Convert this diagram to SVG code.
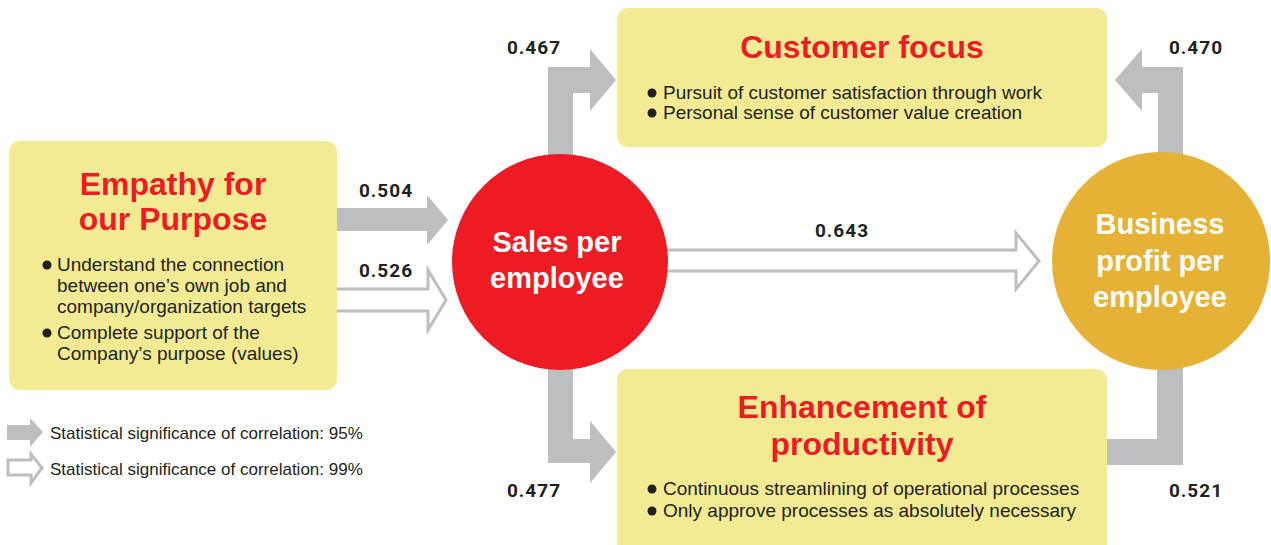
<svg xmlns="http://www.w3.org/2000/svg" width="1271" height="545" viewBox="0 0 1271 545">
<style>
.box{fill:#f3eb93}
.title{font-family:"Liberation Sans",Arial,sans-serif;font-weight:bold;fill:#ed1c24;font-size:32px;text-anchor:middle}
.body{font-family:"Liberation Sans",Arial,sans-serif;fill:#231f20;font-size:19px}
.leg{font-family:"Liberation Sans",Arial,sans-serif;fill:#231f20;font-size:17px}
.circ{font-family:"Liberation Sans",Arial,sans-serif;font-weight:bold;fill:#ffffff;font-size:29px;text-anchor:middle}
.num{font-family:Roboto,"Liberation Sans",sans-serif;font-weight:bold;fill:#231f20;font-size:19px;letter-spacing:1px;text-anchor:middle}
.solid{fill:#bcbec0}
.hollow{fill:#ffffff;stroke:#bcbec0;stroke-width:3;stroke-linejoin:miter}
.dot{fill:#231f20}
</style>
<g id="connectors">
  <polygon class="solid" points="548,200 548,67 590,67 590,49 616,80 590,111 590,93 573,93 573,200"/>
  <polygon class="solid" points="1183,200 1183,67 1142,67 1142,49 1115,80 1142,111 1142,93 1158,93 1158,200"/>
  <polygon class="solid" points="548,320 548,463 590,463 590,483 616,452 590,421 590,439 573,439 573,320"/>
  <polygon class="solid" points="1157,320 1157,439 1100,439 1100,465 1183,465 1183,320"/>
  <polygon class="solid" points="320,208 427,208 427,195 448,220 427,245 427,231 320,231"/>
  <polygon class="hollow" points="320,289 428,289 428,270 446,300 428,330 428,311 320,311"/>
  <polygon class="hollow" points="640,250 1016,250 1016,233 1039,261 1016,289 1016,271 640,271"/>
  <text class="num" x="386" y="197">0.504</text>
  <text class="num" x="386" y="277">0.526</text>
  <text class="num" x="534" y="54">0.467</text>
  <text class="num" x="1196" y="54">0.470</text>
  <text class="num" x="842" y="237">0.643</text>
  <text class="num" x="534" y="497">0.477</text>
  <text class="num" x="1196" y="497">0.521</text>
</g>
<g id="empathy">
  <rect class="box" x="9" y="141" width="328" height="249" rx="11"/>
  <text class="title" x="173" y="195">Empathy for</text>
  <text class="title" x="173" y="230">our Purpose</text>
  <circle class="dot" cx="47" cy="265" r="4.5"/>
  <text class="body" x="57" y="271">Understand the connection</text>
  <text class="body" x="57" y="292">between one’s own job and</text>
  <text class="body" x="57" y="313">company/organization targets</text>
  <circle class="dot" cx="47" cy="333" r="4.5"/>
  <text class="body" x="57" y="339">Complete support of the</text>
  <text class="body" x="57" y="360">Company’s purpose (values)</text>
</g>
<g id="customer">
  <rect class="box" x="617" y="8" width="490" height="139" rx="11"/>
  <text class="title" x="862" y="58">Customer focus</text>
  <circle class="dot" cx="652" cy="93" r="4.5"/>
  <text class="body" x="663" y="99">Pursuit of customer satisfaction through work</text>
  <circle class="dot" cx="652" cy="113" r="4.5"/>
  <text class="body" x="663" y="119">Personal sense of customer value creation</text>
</g>
<g id="productivity">
  <rect class="box" x="617" y="369" width="490" height="186" rx="11"/>
  <text class="title" x="862" y="418">Enhancement of</text>
  <text class="title" x="862" y="455">productivity</text>
  <circle class="dot" cx="652" cy="489" r="4.5"/>
  <text class="body" x="663" y="495">Continuous streamlining of operational processes</text>
  <circle class="dot" cx="652" cy="511" r="4.5"/>
  <text class="body" x="663" y="517">Only approve processes as absolutely necessary</text>
</g>
<g id="sales">
  <circle cx="560" cy="262" r="108" fill="#ed1c24"/>
  <text class="circ" x="557" y="252">Sales per</text>
  <text class="circ" x="557" y="288">employee</text>
</g>
<g id="profit">
  <circle cx="1161" cy="261" r="109" fill="#e6b236"/>
  <text class="circ" x="1160" y="234">Business</text>
  <text class="circ" x="1160" y="271">profit per</text>
  <text class="circ" x="1160" y="307">employee</text>
</g>
<g id="legend">
  <polygon class="solid" points="7,425 30,425 30,418 43,432 30,447 30,440 7,440"/>
  <text class="leg" x="50" y="439">Statistical significance of correlation: 95%</text>
  <polygon class="hollow" points="8,460 31,460 31,454 42,468 31,483 31,475 8,475" stroke-width="2"/>
  <text class="leg" x="50" y="475">Statistical significance of correlation: 99%</text>
</g>
</svg>
